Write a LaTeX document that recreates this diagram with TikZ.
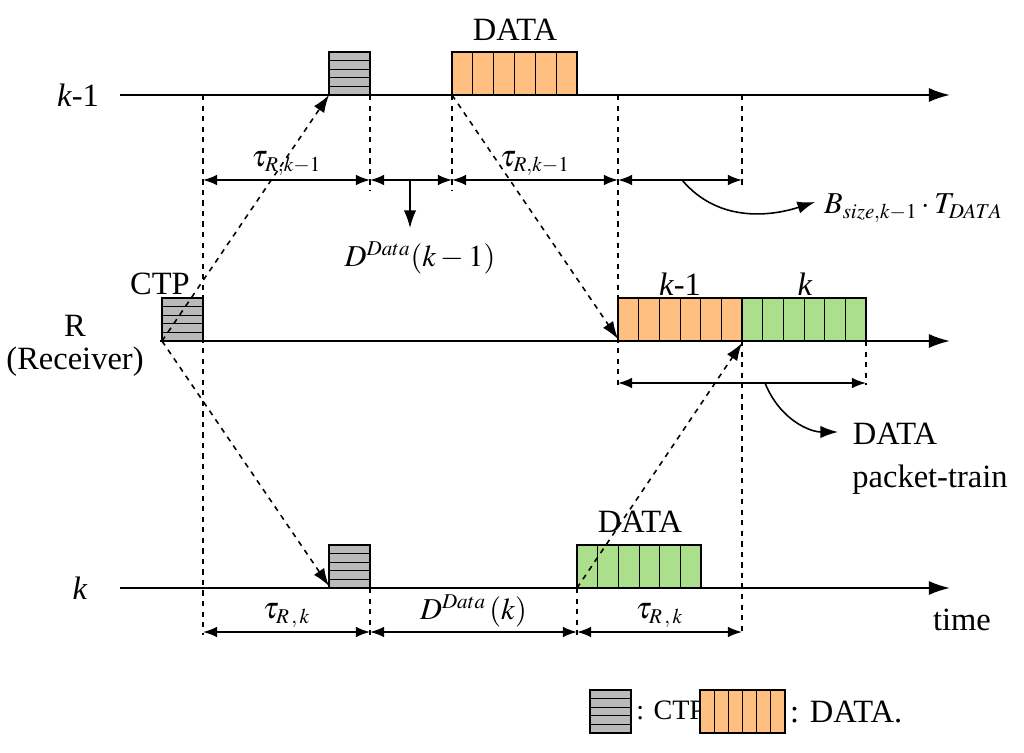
\documentclass[tikz,border=0pt]{standalone}
\usepackage{mathptmx}
\usepackage{fontspec}
\setmainfont{Liberation Serif}
\usetikzlibrary{arrows.meta}
\begin{document}
\begin{tikzpicture}[x=0.02cm,y=-0.02cm,font=\fontsize{18.5}{22}\selectfont,
 axis/.style={line width=1.2pt,-{Latex[length=12pt,width=8pt]}},
 dsh/.style={dashed,line width=0.9pt},
 darr/.style={dashed,line width=0.9pt,-{Latex[length=10pt,width=7pt]}},
 dim/.style={line width=0.9pt,{Latex[length=8pt,width=6pt]}-{Latex[length=8pt,width=6pt]}},
 ctp/.style={draw,fill=gray!55,line width=0.8pt},
 org/.style={draw,fill=orange!50,line width=0.8pt},
 grn/.style={draw,fill=green!45!olive!45,line width=0.8pt}]
\useasboundingbox (0,0) rectangle (1024,753);
\newcommand{\ctpbox}[2]{\draw[ctp] (#1,#2-43) rectangle (#1+41,#2);
 \foreach \i in {1,...,4}{\draw (#1,#2-43+8.6*\i) -- (#1+41,#2-43+8.6*\i);}}
\newcommand{\train}[4]{\draw[#4] (#1,#2-43) rectangle (#1+#3,#2);
 \foreach \i in {1,...,5}{\draw (#1+#3/6*\i,#2-43) -- (#1+#3/6*\i,#2);}}
\ctpbox{329}{95}
\train{452}{95}{125}{org}
\ctpbox{162}{341}
\train{618}{341}{124}{org}
\train{742}{341}{124}{grn}
\ctpbox{329}{588}
\train{577}{588}{124}{grn}
% axes
\coordinate (a1) at (120,95); \coordinate (a1e) at (950,95);
\coordinate (a2) at (160,341); \coordinate (a2e) at (950,341);
\coordinate (a3) at (120,588); \coordinate (a3e) at (950,588);
\draw[axis] (a1) -- (a1e);
\draw[axis] (a2) -- (a2e);
\draw[axis] (a3) -- (a3e);
% labels
\node (l1) at (78,95) {\textit{k}-1};
\node[inner sep=1pt] (l2) at (75,326) {R};
\node[inner sep=1pt] (l2b) at (75,362) {(Receiver)};
\node (l3) at (80,588) {\textit{k}};
\node (lc) at (160,284) {CTP};
\node (ld1) at (515,30) {DATA};
\node (lr1) at (680,284) {\textit{k}-1};
\node (lr2) at (805,284) {\textit{k}};
\node (ld3) at (640,522) {DATA};
\node (lt) at (962,620) {time};
% vertical dashes
\draw[dsh] (203,95) -- (203,635);
\draw[dsh] (370,95) -- (370,190);
\draw[dsh] (452,95) -- (452,190);
\draw[dsh] (618,95) -- (618,385);
\draw[dsh] (742,95) -- (742,185);
\draw[dsh] (742,341) -- (742,635);
\draw[dsh] (866,341) -- (866,385);
\draw[dsh] (370,588) -- (370,635);
\draw[dsh] (577,588) -- (577,635);
% dashed arrows
\coordinate (c0) at (162,341);
\draw[darr] (c0) -- (329,95);
\draw[darr] (c0) -- (329,586);
\draw[darr] (452,95) -- (618,339);
\draw[darr] (577,588) -- (742,343);
% dims top
\draw[dim] (203,180) -- node[above=-1pt]{\LARGE$\tau_{R,k-1}$} (370,180);
\draw[dim] (370,180) -- (452,180);
\draw[dim] (452,180) -- node[above=-1pt]{\LARGE$\tau_{R,k-1}$} (618,180);
\draw[dim] (618,180) -- (742,180);
\draw[line width=0.9pt,-{Latex[length=10pt,width=7pt]}] (410,180) -- (410,228);
\node at (420,258) {\LARGE$D^{Data}\!\left(k-1\right)$};
\draw[line width=0.9pt,-{Latex[length=10pt,width=7pt]}] (682,180) .. controls (720,225) and (775,215) .. (815,202);
\node[anchor=west] at (818,208) {\LARGE$B_{size,k-1}\cdot T_{DATA}$};
% dims R
\draw[dim] (618,383) -- (866,383);
\draw[line width=0.9pt,-{Latex[length=10pt,width=7pt]}] (765,383) .. controls (780,420) and (810,432) .. (838,432);
\node (dp1) at (895,434) {DATA};
\node (dp2) at (930,480) {packet-train};
% dims bottom
\draw[dim] (203,632) -- node[above=-1pt]{\LARGE$\tau_{R\,,\,k}$} (370,632);
\draw[dim] (370,632) -- node[above=-1pt]{\LARGE$D^{Data}\left(k\right)$} (577,632);
\draw[dim] (577,632) -- node[above=-1pt]{\LARGE$\tau_{R\,,\,k}$} (742,632);
% legend
\ctpbox{590}{733}
\node[anchor=west,inner sep=0pt,font=\fontsize{16}{19}\selectfont] at (636,712) {: CTP,};
\train{700}{733}{85}{org}
\node[anchor=west,inner sep=1pt] at (788,712) {: DATA.};
\end{tikzpicture}
\end{document}
